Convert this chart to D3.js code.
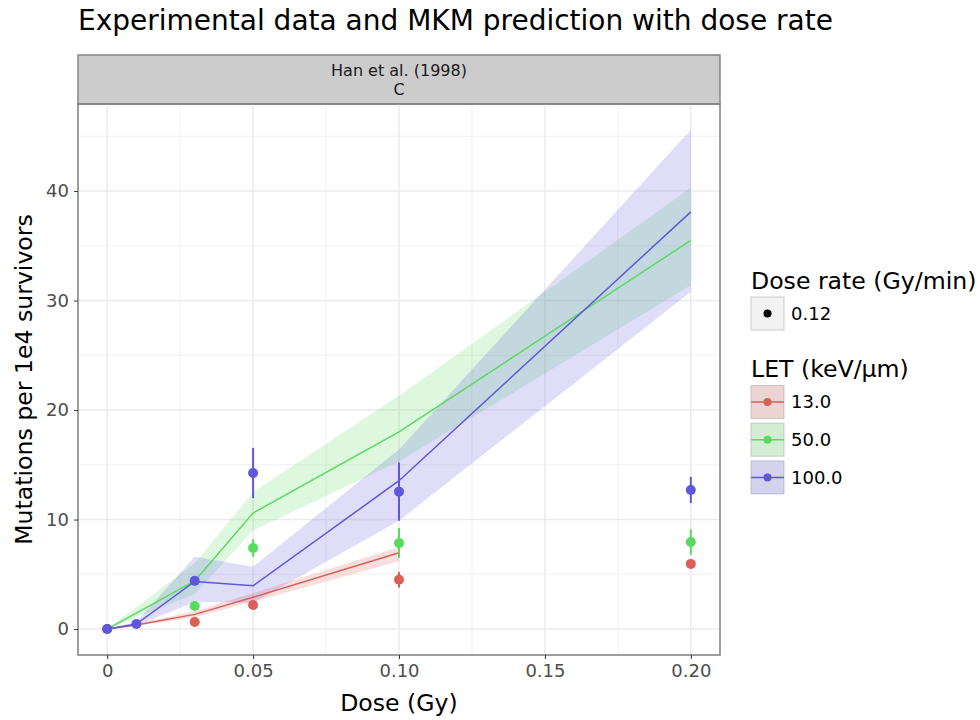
<!DOCTYPE html>
<html>
<head>
<meta charset="utf-8">
<script src="https://cdn.jsdelivr.net/npm/d3@7"></script>
<style>
  body { margin: 0; background: #fff; }
  svg { font-family: "DejaVu Sans", sans-serif; }
</style>
</head>
<body>
<svg id="chart" width="980" height="720"></svg>
<script>
// ---- data ----
const letLabels = ["13.0", "50.0", "100.0"];
const letColors = ["#db5f57", "#57db5e", "#5f57db"];

// experimental points (dose rate 0.12 Gy/min)
const exp13Dose = [0, 0.03, 0.05, 0.1, 0.2];
const exp13Mean = [0, 0.65, 2.2, 4.5, 5.95];
const exp13Err  = [0, 0.2, 0.3, 0.7, 0.4];

const exp50Dose = [0, 0.03, 0.05, 0.1, 0.2];
const exp50Mean = [0, 2.1, 7.4, 7.85, 7.95];
const exp50Err  = [0, 0.3, 0.8, 1.35, 1.15];

const exp100Dose = [0, 0.01, 0.03, 0.05, 0.1, 0.2];
const exp100Mean = [0, 0.46, 4.4, 14.25, 12.55, 12.7];
const exp100Err  = [0, 0.15, 0.4, 2.3, 2.65, 1.2];

// MKM prediction with band
const mod13Dose = [0, 0.01, 0.03, 0.05, 0.1];
const mod13Mean = [0, 0.37, 1.34, 2.9, 6.97];
const mod13Lo   = [0, 0.3, 1.05, 2.5, 6.2];
const mod13Hi   = [0, 0.45, 1.65, 3.3, 7.5];

const mod50Dose = [0, 0.03, 0.05, 0.1, 0.2];
const mod50Mean = [0, 4.4, 10.6, 18.0, 35.5];
const mod50Lo   = [0, 3.2, 9.0, 15.3, 31.4];
const mod50Hi   = [0, 6.0, 12.5, 21.3, 40.3];

const mod100Dose = [0, 0.01, 0.03, 0.05, 0.1, 0.2];
const mod100Mean = [0, 0.46, 4.35, 3.95, 13.55, 38.1];
const mod100Lo   = [0, 0.3, 2.5, 2.4, 9.9, 30.8];
const mod100Hi   = [0, 0.65, 6.6, 5.7, 16.4, 45.6];

const xTicks = [0, 0.05, 0.1, 0.15, 0.2];
const xTickLabels = ["0", "0.05", "0.10", "0.15", "0.20"];
const xMinor = [0.025, 0.075, 0.125, 0.175];
const yTicks = [0, 10, 20, 30, 40];
const yMinor = [5, 15, 25, 35, 45];
const doseRates = ["0.12"];
const stripLines = ["Han et al. (1998)", "C"];

// ---- build series ----
var zipExp = function(d, m, e) { return d.map((v, i) => ({ dose: v, mean: m[i], err: e[i] })); };
var zipMod = function(d, m, lo, hi) { return d.map((v, i) => ({ dose: v, mean: m[i], lo: lo[i], hi: hi[i] })); };
const expSeries = [zipExp(exp13Dose, exp13Mean, exp13Err), zipExp(exp50Dose, exp50Mean, exp50Err), zipExp(exp100Dose, exp100Mean, exp100Err)];
const modSeries = [zipMod(mod13Dose, mod13Mean, mod13Lo, mod13Hi), zipMod(mod50Dose, mod50Mean, mod50Lo, mod50Hi), zipMod(mod100Dose, mod100Mean, mod100Lo, mod100Hi)];

// ---- layout ----
const panel = { left: 78, right: 720, top: 104, bottom: 655 };
const smallFont = '18px', titleFont = '23.6px';
const svg = d3.select('#chart');

const x = d3.scaleLinear().domain([-0.01, 0.21]).range([panel.left, panel.right]);
const y = d3.scaleLinear().domain([-2.37, 47.95]).range([panel.bottom, panel.top]);

// title
svg.append('text')
    .attr('x', 78).attr('y', 30)
    .style('font-size', '28px').style('fill', '#000')
    .text('Experimental data and MKM prediction with dose rate');

// strip
svg.append('rect')
    .attr('x', panel.left).attr('y', 55)
    .attr('width', panel.right - panel.left).attr('height', panel.top - 55)
    .style('fill', '#cccccc').style('stroke', '#7f7f7f').style('stroke-width', 1.4);
stripLines.forEach((t, i) => {
  svg.append('text').attr('x', (panel.left + panel.right) / 2).attr('y', 75.5 + i * 19.5)
      .attr('text-anchor', 'middle').style('font-size', '16px').style('fill', '#1a1a1a')
      .text(t);
});

// grid
const grid = svg.append('g');
grid.selectAll('.xminor').data(xMinor).join('line')
    .attr('x1', d => x(d)).attr('x2', d => x(d)).attr('y1', panel.top).attr('y2', panel.bottom)
    .style('stroke', '#ebebeb').style('stroke-width', 0.7);
grid.selectAll('.yminor').data(yMinor).join('line')
    .attr('y1', d => y(d)).attr('y2', d => y(d)).attr('x1', panel.left).attr('x2', panel.right)
    .style('stroke', '#ebebeb').style('stroke-width', 0.7);
grid.selectAll('.xmajor').data(xTicks).join('line')
    .attr('x1', d => x(d)).attr('x2', d => x(d)).attr('y1', panel.top).attr('y2', panel.bottom)
    .style('stroke', '#ebebeb').style('stroke-width', 1.5);
grid.selectAll('.ymajor').data(yTicks).join('line')
    .attr('y1', d => y(d)).attr('y2', d => y(d)).attr('x1', panel.left).attr('x2', panel.right)
    .style('stroke', '#ebebeb').style('stroke-width', 1.5);

// ribbons, lines, error bars, points
const area = d3.area().x(d => x(d.dose)).y0(d => y(d.lo)).y1(d => y(d.hi));
const line = d3.line().x(d => x(d.dose)).y(d => y(d.mean));
const plot = svg.append('g');
modSeries.forEach((s, i) => {
  plot.append('path').datum(s).attr('d', area)
      .style('fill', letColors[i]).style('fill-opacity', 0.2);
});
modSeries.forEach((s, i) => {
  plot.append('path').datum(s).attr('d', line)
      .style('fill', 'none').style('stroke', letColors[i]).style('stroke-width', 1.5);
});
expSeries.forEach((s, i) => {
  plot.selectAll(null).data(s).join('line')
      .attr('x1', d => x(d.dose)).attr('x2', d => x(d.dose))
      .attr('y1', d => y(d.mean - d.err)).attr('y2', d => y(d.mean + d.err))
      .style('stroke', letColors[i]).style('stroke-width', 2);
  plot.selectAll(null).data(s).join('circle')
      .attr('cx', d => x(d.dose)).attr('cy', d => y(d.mean)).attr('r', 5)
      .style('fill', letColors[i]);
});

// panel border
svg.append('rect')
    .attr('x', panel.left).attr('y', panel.top)
    .attr('width', panel.right - panel.left).attr('height', panel.bottom - panel.top)
    .style('fill', 'none').style('stroke', '#7f7f7f').style('stroke-width', 1.5);

// axes
const xAxis = svg.append('g').attr('transform', 'translate(0,' + panel.bottom + ')')
    .call(d3.axisBottom(x).tickValues(xTicks).tickFormat((d, i) => xTickLabels[i]).tickSize(4).tickPadding(5));
const yAxis = svg.append('g').attr('transform', 'translate(' + panel.left + ',0)')
    .call(d3.axisLeft(y).tickValues(yTicks).tickSize(4).tickPadding(5));
[xAxis, yAxis].forEach(a => {
  a.select('.domain').remove();
  a.selectAll('.tick line').style('stroke', '#333333').style('stroke-width', 1);
  a.selectAll('.tick text').style('fill', '#4d4d4d').style('font-size', smallFont)
      .style('font-family', '"DejaVu Sans", sans-serif');
});

// axis titles
svg.append('text').attr('x', (panel.left + panel.right) / 2).attr('y', 711)
    .attr('text-anchor', 'middle').style('font-size', titleFont).text('Dose (Gy)');
svg.append('text')
    .attr('transform', 'translate(32,' + ((panel.top + panel.bottom) / 2) + ') rotate(-90)')
    .attr('text-anchor', 'middle').style('font-size', titleFont).text('Mutations per 1e4 survivors');

// legends
const leg = svg.append('g');
const keyX = 751, keySize = 33;
leg.append('text').attr('x', keyX).attr('y', 289).style('font-size', titleFont).text('Dose rate (Gy/min)');
doseRates.forEach((r, i) => {
  const ky = 297 + i * 37.5;
  leg.append('rect').attr('x', keyX).attr('y', ky).attr('width', keySize).attr('height', keySize)
      .style('fill', '#f2f2f2').style('stroke', '#cccccc').style('stroke-width', 1);
  leg.append('circle').attr('cx', keyX + keySize / 2).attr('cy', ky + keySize / 2).attr('r', 4).style('fill', '#000');
  leg.append('text').attr('x', keyX + keySize + 7).attr('y', ky + keySize / 2).attr('dy', '0.35em')
      .style('font-size', smallFont).text(r);
});
leg.append('text').attr('x', keyX).attr('y', 377).style('font-size', titleFont).text('LET (keV/\u00b5m)');
letLabels.forEach((l, i) => {
  const ky = 385.5 + i * 37.7;
  leg.append('rect').attr('x', keyX).attr('y', ky).attr('width', keySize).attr('height', keySize)
      .style('fill', '#f2f2f2').style('stroke', '#cccccc').style('stroke-width', 1);
  leg.append('rect').attr('x', keyX).attr('y', ky).attr('width', keySize).attr('height', keySize)
      .style('fill', letColors[i]).style('fill-opacity', 0.2);
  leg.append('line').attr('x1', keyX).attr('x2', keyX + keySize)
      .attr('y1', ky + keySize / 2).attr('y2', ky + keySize / 2)
      .style('stroke', letColors[i]).style('stroke-width', 1.5);
  leg.append('circle').attr('cx', keyX + keySize / 2).attr('cy', ky + keySize / 2).attr('r', 4).style('fill', letColors[i]);
  leg.append('text').attr('x', keyX + keySize + 7).attr('y', ky + keySize / 2).attr('dy', '0.35em')
      .style('font-size', smallFont).text(l);
});
</script>
</body>
</html>
